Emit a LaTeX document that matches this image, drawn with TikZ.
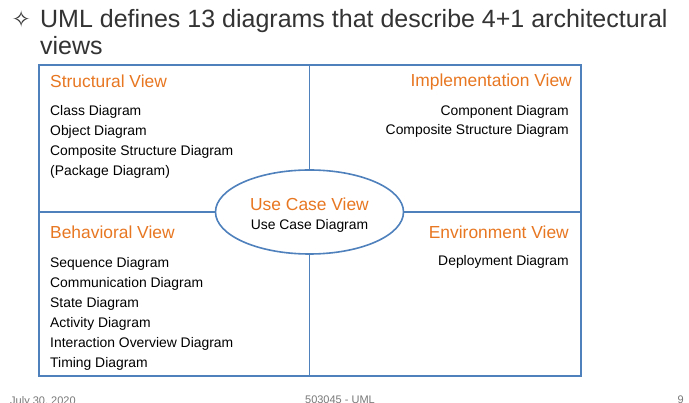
\documentclass[tikz,border=0pt]{standalone}
\usepackage{fontspec}
\setmainfont{Liberation Sans}
\newfontfamily\symfont{DejaVu Sans}
\usetikzlibrary{shapes.geometric}
\definecolor{frameblue}{RGB}{79,129,189}
\definecolor{vieworange}{RGB}{232,119,34}
\definecolor{titlegray}{RGB}{51,51,51}
\definecolor{footgray}{RGB}{120,120,120}
\tikzset{
  divider/.style={draw=frameblue, line width=1.6pt},
  viewhead/.style={text=vieworange, font=\fontsize{17.4}{20}\selectfont, inner sep=0pt},
  item/.style={text=black, font=\fontsize{13.9}{16}\selectfont, inner sep=0pt},
  footer/.style={text=footgray, font=\fontsize{11}{13}\selectfont, inner sep=0pt, anchor=north},
  heading/.style={anchor=base west, inner sep=0pt, text=titlegray, font=\fontsize{25}{29}\selectfont},
}
\begin{document}
\begin{tikzpicture}[x=1pt, y=-1pt]
  \useasboundingbox (0,0) rectangle (689,403);
  \clip (0,0) rectangle (689,403);
  \fill[white] (0,0) rectangle (689,403);

  % heading
  \node[heading, anchor=base east] (star) at (31,28) {\symfont\fontsize{23}{27}\selectfont ✧};
  \node[heading] (title) at (40,28) {UML defines 13 diagrams that describe 4+1 architectural};
  \node[heading] (title2) at (40,55) {views};

  % the 4+1 frame
  \node[divider, rectangle, minimum width=542pt, minimum height=311pt, inner sep=0pt, anchor=north west]
    (frame) at (38,64) {};
  \coordinate (mid) at (309.5,212);
  \node[divider, ellipse, fill=white, minimum width=188pt, minimum height=84pt, inner sep=0pt]
    (usecase) at (mid) {};
  \draw[divider] (frame.north -| mid) -- (usecase.north);
  \draw[divider] (usecase.south) -- (frame.south -| mid);
  \draw[divider] (frame.west |- mid) -- (usecase.west);
  \draw[divider] (usecase.east) -- (frame.east |- mid);

  % use case view
  \node[viewhead] (uchead) at (309.5,204) {Use Case View};
  \node[item] (ucitem) at (309.5,226) {Use Case Diagram};

  % structural view
  \node[viewhead, anchor=west] (sthead) at (50,81) {Structural View};
  \node[item, anchor=west] (st1) at (50,112) {Class Diagram};
  \node[item, anchor=west] (st2) at (50,132) {Object Diagram};
  \node[item, anchor=west] (st3) at (50,152) {Composite Structure Diagram};
  \node[item, anchor=west] (st4) at (50,172) {(Package Diagram)};

  % implementation view
  \node[viewhead, anchor=east] (imhead) at (572,82) {Implementation View};
  \node[item, anchor=east] (im1) at (569,112) {Component Diagram};
  \node[item, anchor=east] (im2) at (569,131) {Composite Structure Diagram};

  % behavioral view
  \node[viewhead, anchor=west] (behead) at (50,232) {Behavioral View};
  \node[item, anchor=west] (be1) at (50,264) {Sequence Diagram};
  \node[item, anchor=west] (be2) at (50,284) {Communication Diagram};
  \node[item, anchor=west] (be3) at (50,304) {State Diagram};
  \node[item, anchor=west] (be4) at (50,324) {Activity Diagram};
  \node[item, anchor=west] (be5) at (50,344) {Interaction Overview Diagram};
  \node[item, anchor=west] (be6) at (50,364) {Timing Diagram};

  % environment view
  \node[viewhead, anchor=east] (enhead) at (569,232) {Environment View};
  \node[item, anchor=east] (en1) at (569,262) {Deployment Diagram};

  % slide footer, running off the lower edge
  \node[footer, anchor=north west] (fdate) at (10,396) {July 30, 2020};
  \node[footer] (fcourse) at (340,396) {503045 - UML};
  \node[footer, anchor=north east] (fpage) at (684,396) {9};
\end{tikzpicture}
\end{document}
